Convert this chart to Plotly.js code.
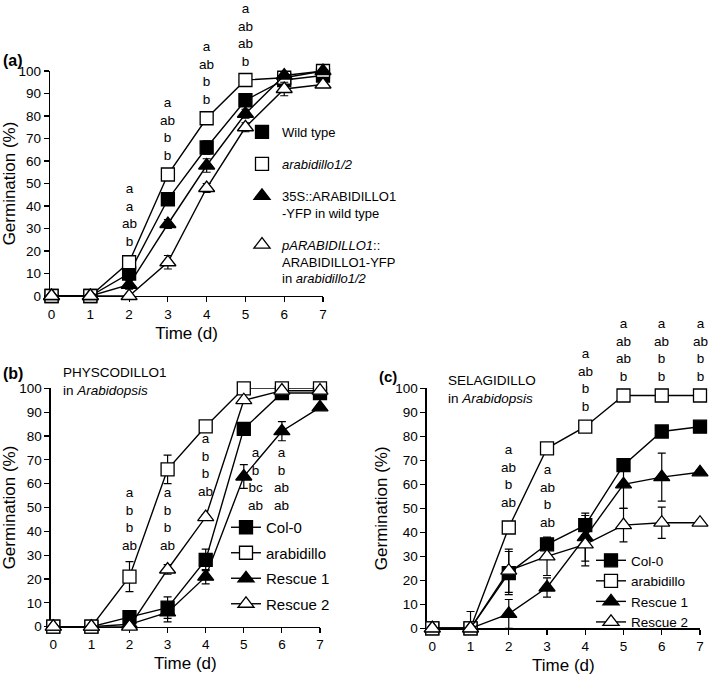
<!DOCTYPE html>
<html>
<head>
<meta charset="utf-8">
<script src="https://cdn.plot.ly/plotly-3.0.1.min.js"></script>
<style>
  body { margin: 0; background: #fff; }
  #chart { width: 709px; height: 678px; }
</style>
</head>
<body>
<div id="chart"></div>
<script>
const FONT = 'Arial, "Liberation Sans", sans-serif';

// time points (d)
const days = [0, 1, 2, 3, 4, 5, 6, 7];

// (a) germination (%) and error bars
const aWildType = [0, 0, 10, 43, 66, 87, 96, 98];
const aWildTypeErr = [0, 0, 1, 2, 3, 2, 1, 1];
const aMutant = [0, 0, 15, 54, 79, 96, 97, 100];
const aMutantErr = [0, 0, 1, 1, 1, 1, 0, 0];
const a35S = [0, 0, 5, 32, 58, 81, 98, 100];
const a35SErr = [0, 0, 2, 2, 3, 2, 1, 1];
const aNative = [0, 0, 0, 15, 48, 75, 92, 94];
const aNativeErr = [0, 0, 0, 3, 2, 2, 3, 1];

// (b) PHYSCODILLO1 in Arabidopsis
const bCol0 = [0, 0, 4, 8, 28, 83, 98, 98];
const bCol0Err = [0, 0, 1, 4.5, 4.5, 2, 1, 1];
const bMutant = [0, 0, 21, 66, 84, 100, 100, 100];
const bMutantErr = [0, 0, 6.3, 6, 1, 0, 0, 0];
const bRescue1 = [0, 0, 1, 6, 21, 63, 82, 92];
const bRescue1Err = [0, 0, 1, 4, 3, 5, 4, 1];
const bRescue2 = [0, 0, 0, 24, 46, 95, 99, 99];
const bRescue2Err = [0, 0, 0, 2, 1, 1, 1, 1];

// (c) SELAGIDILLO in Arabidopsis
const cCol0 = [0, 0, 23, 35, 43, 68, 82, 84];
const cCol0Err = [0, 0, 9, 2, 4, 2, 1, 1];
const cMutant = [0, 0, 42, 75, 84, 97, 97, 97];
const cMutantErr = [0, 0, 1, 1, 1, 0, 0, 0];
const cRescue1 = [0, 0, 6, 17, 38, 60, 63, 65];
const cRescue1Err = [0, 0, 6, 4, 10, 10, 10, 1];
const cRescue2 = [0, 0, 24, 30, 35, 43, 44, 44];
const cRescue2Err = [0, 7, 9, 8, 9, 7, 6.5, 1];

// legend names
const aNames = [
    'Wild type',
    '<i>arabidillo1/2</i>',
    '35S::ARABIDILLO1<br>-YFP in wild type',
    '<i>pARABIDILLO1</i>::<br>ARABIDILLO1-YFP<br>in <i>arabidillo1/2</i>',
];
const bcNames = ['Col-0', 'arabidillo', 'Rescue 1', 'Rescue 2'];

// significance letters per time point
const aLetterDays = [2, 3, 4, 5];
const aLetters = [['a', 'a', 'ab', 'b'], ['a', 'ab', 'b', 'b'], ['a', 'ab', 'b', 'b'], ['a', 'ab', 'ab', 'b']];
const bLetterDays = [2, 3, 4, 5, 6];
const bLetters = [['a', 'b', 'b', 'ab'], ['a', 'b', 'b', 'ab'], ['a', 'b', 'b', 'ab'], ['a', 'b', 'bc', 'ab'], ['a', 'b', 'ab', 'ab']];
const cLetterDays = [2, 3, 4, 5, 6, 7];
const cLetters = [['a', 'ab', 'b', 'ab'], ['a', 'ab', 'b', 'ab'], ['a', 'ab', 'b', 'b'], ['a', 'ab', 'ab', 'b'], ['a', 'ab', 'b', 'b'], ['a', 'ab', 'b', 'b']];

// where each letter stack sits (x shift, y centre in % of the axis)
const aLetterPos = [[0, 36], [0, 74], [0, 99], [0, 116]];
const bLetterPos = [[0, 45], [0, 45], [0, 68], [0.3, 62], [0, 62]];
const cLetterPos = [[0, 63.5], [0, 55], [0, 103.5], [0, 116], [0, 116], [0, 116]];

const markerStyles = [
    { symbol: 'square', fill: 'black', size: 13 },
    { symbol: 'square', fill: 'white', size: 13 },
    { symbol: 'triangle-up', fill: 'black', size: 14 },
    { symbol: 'triangle-up', fill: 'white', size: 14 },
];

function makeTrace(y, err, style, n, name, legend, showlegend) {
    return {
        x: days,
        y: y,
        name: name,
        type: 'scatter',
        mode: 'lines+markers',
        xaxis: 'x' + n,
        yaxis: 'y' + n,
        legend: legend,
        legendgroup: legend + name,
        showlegend: showlegend,
        cliponaxis: false,
        line: { color: 'black', width: 1.4 },
        marker: {
            symbol: style.symbol,
            size: style.size,
            color: style.fill,
            line: { color: 'black', width: 1.3 },
        },
        error_y: { type: 'data', array: err, color: 'black', thickness: 1.2, width: 4 },
    };
}

const traces = [];

const aSeries = [[aWildType, aWildTypeErr], [aMutant, aMutantErr], [a35S, a35SErr], [aNative, aNativeErr]];
aSeries.forEach(function (s, i) {
    traces.push(makeTrace(s[0], s[1], markerStyles[i], '', aNames[i], 'legend', false));
});
// marker-only entries for the legend of (a)
aNames.forEach(function (name, i) {
    traces.push({
        x: [null], y: [null], name: name, type: 'scatter', mode: 'markers',
        legend: 'legend', legendgroup: 'a' + i, showlegend: true,
        marker: {
            symbol: markerStyles[i].symbol, size: markerStyles[i].size,
            color: markerStyles[i].fill, line: { color: 'black', width: 1.3 },
        },
    });
});

const bSeries = [[bCol0, bCol0Err], [bMutant, bMutantErr], [bRescue1, bRescue1Err], [bRescue2, bRescue2Err]];
bSeries.forEach(function (s, i) {
    traces.push(makeTrace(s[0], s[1], markerStyles[i], '2', bcNames[i], 'legend2', true));
});

const cSeries = [[cCol0, cCol0Err], [cMutant, cMutantErr], [cRescue1, cRescue1Err], [cRescue2, cRescue2Err]];
cSeries.forEach(function (s, i) {
    traces.push(makeTrace(s[0], s[1], markerStyles[i], '3', bcNames[i], 'legend3', true));
});

// pixel helpers for the 709 x 678 page
const W = 709, H = 678;
const px = v => v / W;
const py = v => 1 - v / H;

function xAxis(left, right, x0, anchor) {
    return {
        domain: [px(left), px(right)],
        range: [x0, 7],
        anchor: anchor,
        dtick: 1,
        showline: true, linecolor: 'black', linewidth: 1.3,
        ticks: 'outside', ticklen: 5, tickwidth: 1.2, tickcolor: 'black',
        showgrid: false, zeroline: false,
        layer: 'below traces',
        tickfont: { size: 13.5 },
        title: { text: 'Time (d)', font: { size: 17 }, standoff: 6 },
    };
}

function yAxis(bottom, top, anchor) {
    return {
        domain: [py(bottom), py(top)],
        range: [0, 100],
        anchor: anchor,
        dtick: 10,
        showline: true, linecolor: 'black', linewidth: 1.3,
        ticks: 'outside', ticklen: 5, tickwidth: 1.2, tickcolor: 'black',
        showgrid: false, zeroline: false,
        layer: 'below traces',
        tickfont: { size: 13.5 },
        title: { text: 'Germination (%)', font: { size: 17 }, standoff: 3 },
    };
}

// letters use the axis domain vertically so stacks above 100 % are still drawn
function letterAnnotations(letterDays, letters, pos, n) {
    return letterDays.map(function (d, i) {
        return {
            x: d + pos[i][0], y: pos[i][1] / 100,
            xref: 'x' + n, yref: 'y' + n + ' domain',
            text: letters[i].join('<br>'), showarrow: false,
            xanchor: 'center', yanchor: 'middle',
            font: { size: 13.5 },
        };
    });
}

function paperText(text, x, y, size, bold) {
    return {
        text: bold ? '<b>' + text + '</b>' : text,
        x: px(x), y: py(y), xref: 'paper', yref: 'paper',
        xanchor: 'left', yanchor: 'middle', showarrow: false,
        align: 'left',
        font: { size: size },
    };
}

const annotations = []
    .concat(letterAnnotations(aLetterDays, aLetters, aLetterPos, ''))
    .concat(letterAnnotations(bLetterDays, bLetters, bLetterPos, '2'))
    .concat(letterAnnotations(cLetterDays, cLetters, cLetterPos, '3'))
    .concat([
        paperText('(a)', 1, 60, 16, true),
        paperText('(b)', 1, 373, 16, true),
        paperText('(c)', 377, 376, 15, true),
        paperText('PHYSCODILLO1<br>in <i>Arabidopsis</i>', 61, 381, 13.5, false),
        paperText('SELAGIDILLO<br>in <i>Arabidopsis</i>', 446, 389, 13.5, false),
    ]);

const legendBase = {
    xanchor: 'left', yanchor: 'top',
    bgcolor: 'rgba(0,0,0,0)', borderwidth: 0,
    orientation: 'v',
};

const layout = {
    width: W,
    height: H,
    margin: { l: 0, r: 0, t: 0, b: 0 },
    paper_bgcolor: 'white',
    plot_bgcolor: 'white',
    font: { family: FONT, size: 13.5, color: 'black' },
    showlegend: true,
    xaxis: xAxis(50, 323, -0.04, 'y'),
    yaxis: yAxis(296, 71, 'x'),
    xaxis2: xAxis(50.7, 320, -0.068, 'y2'),
    yaxis2: yAxis(626.7, 388.3, 'x2'),
    xaxis3: xAxis(426.7, 700, -0.146, 'y3'),
    yaxis3: yAxis(628.3, 388.3, 'x3'),
    legend: Object.assign({}, legendBase, {
        x: px(242), y: py(117), valign: 'top', tracegroupgap: 12, font: { size: 13 },
    }),
    legend2: Object.assign({}, legendBase, {
        x: px(226), y: py(511), tracegroupgap: 3, font: { size: 15 },
    }),
    legend3: Object.assign({}, legendBase, {
        x: px(591), y: py(545), tracegroupgap: 0, font: { size: 13.5 },
    }),
    annotations: annotations,
};

Plotly.newPlot('chart', traces, layout, { displayModeBar: false, staticPlot: true });
</script>
</body>
</html>
